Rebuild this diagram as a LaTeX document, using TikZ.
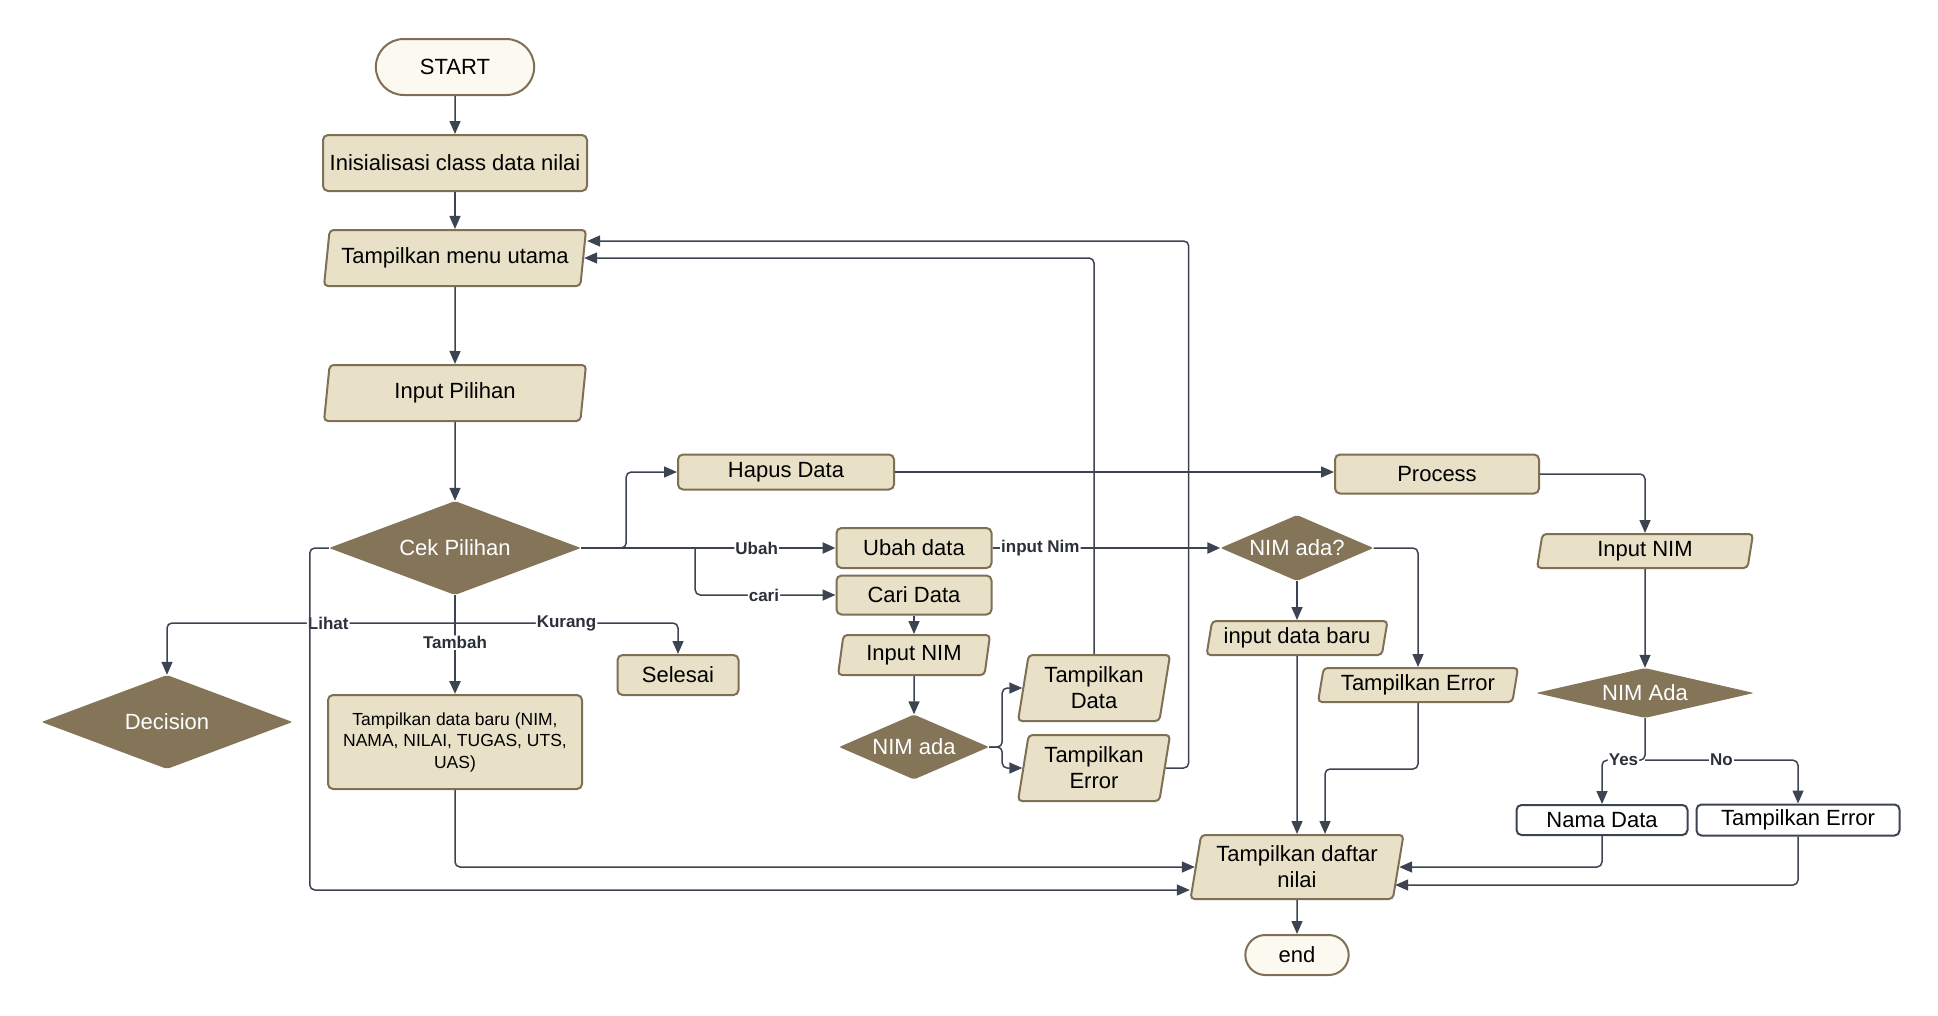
\documentclass[tikz,border=0pt]{standalone}
\usepackage{fontspec}
\setmainfont{Liberation Sans}
\usetikzlibrary{arrows.meta,positioning,shapes.geometric,shapes.misc,calc}

\definecolor{boxfill}{HTML}{E8E1C7}
\definecolor{boxdraw}{HTML}{7E6F55}
\definecolor{diafill}{HTML}{847559}
\definecolor{termfill}{HTML}{FCF9F0}
\definecolor{flowline}{HTML}{3D4451}

\begin{document}
\begin{tikzpicture}
    [on grid,
    every node/.style={font=\fontsize{22}{26}\selectfont},
    process box/.style={rectangle,rounded corners=5pt,draw=boxdraw,fill=boxfill,line width=2pt,inner sep=2pt},
    io box/.style={trapezium,trapezium left angle=77,trapezium right angle=103,trapezium stretches body,
        rounded corners=4pt,draw=boxdraw,fill=boxfill,line width=2pt,inner sep=2pt},
    decision/.style={diamond,aspect=2.6,inner sep=0pt,rounded corners=2pt,fill=diafill,text=white},
    terminal/.style={rounded rectangle,draw=boxdraw,fill=termfill,line width=2pt},
    plain box/.style={rectangle,rounded corners=5pt,draw=flowline,fill=white,line width=2pt},
    flow/.style={draw=flowline,line width=1.5pt,rounded corners=5pt,-{Triangle[length=13pt,width=11pt]}},
    flow thick/.style={flow,line width=2.5pt},
    branch label/.style={fill=white,inner sep=1pt,text=flowline!70!black,font=\bfseries\fontsize{17}{20}\selectfont}]
    \useasboundingbox (0,0) rectangle (1938pt,-1015pt);
    % 左边的主流程
    \node [terminal,minimum width=165pt,minimum height=56pt] (start) at (455pt,-67pt) {START};
    \node [process box,minimum width=264pt,minimum height=56pt] (init) [below=96pt of start] {Inisialisasi class data nilai};
    \node [io box,minimum width=262pt,minimum height=56pt] (menu) [below=95pt of init] {Tampilkan menu utama};
    \node [io box,minimum width=262pt,minimum height=56pt] (pilih) [below=135pt of menu] {Input Pilihan};
    \node [decision,minimum width=252pt,minimum height=94pt] (cek) [below=155pt of pilih] {Cek Pilihan};
    \node [process box,minimum width=254pt,minimum height=94pt,align=center,font=\fontsize{17.5}{21.5}\selectfont]
        (tambah) [below=194pt of cek] {Tampilkan data baru (NIM,\\NAMA, NILAI, TUGAS, UTS,\\UAS)};
    \node [decision,minimum width=251pt,minimum height=94pt] (lihat) [below left=174pt and 288pt of cek] {Decision};
    \node [process box,minimum width=121pt,minimum height=40pt] (selesai) [below right=127pt and 223pt of cek] {Selesai};
    \coordinate (silang) at ($(cek.center)+(0,-75pt)$);
    % 中间的分支
    \node [process box,minimum width=216pt,minimum height=35pt] (hapus) [above right=76pt and 331pt of cek] {Hapus Data};
    \node [process box,minimum width=155pt,minimum height=40pt] (ubah) [right=459pt of cek] {Ubah data};
    \node [process box,minimum width=155pt,minimum height=39pt] (cari) [below=47pt of ubah] {Cari Data};
    \node [io box,minimum width=152pt,minimum height=40pt] (nim1) [below=60pt of cari] {Input NIM};
    \node [decision,minimum width=150pt,minimum height=65pt] (ada1) [below=92pt of nim1] {NIM ada};
    \node [io box,minimum width=152pt,minimum height=66pt,align=center] (tdata) [above right=59pt and 180pt of ada1] {Tampilkan\\Data};
    \node [io box,minimum width=152pt,minimum height=66pt,align=center] (terr) [below=80pt of tdata] {Tampilkan\\Error};
    \coordinate (cabang) at ($(cek.east)+(114pt,0)$);
    % 右边的分支
    \node [decision,minimum width=153pt,minimum height=66pt] (ada2) [right=383pt of ubah] {NIM ada?};
    \node [io box,minimum width=181pt,minimum height=34pt] (baru) [below=90pt of ada2] {input data baru};
    \node [io box,minimum width=200pt,minimum height=34pt] (err2) [below right=137pt and 121pt of ada2] {Tampilkan Error};
    \node [io box,minimum width=213pt,minimum height=64pt,align=center] (daftar) [below=229pt of baru] {Tampilkan daftar\\nilai};
    \node [terminal,minimum width=110pt,minimum height=40pt] (end) [below=88pt of daftar] {end};
    \node [process box,minimum width=204pt,minimum height=39pt] (process) [above right=74pt and 140pt of ada2] {Process};
    \node [io box,minimum width=216pt,minimum height=34pt] (nim2) [below right=77pt and 208pt of process] {Input NIM};
    \node [decision,minimum width=218pt,minimum height=50pt] (ada3) [below=142pt of nim2] {NIM Ada};
    \node [plain box,minimum width=171pt,minimum height=30pt] (nama) [below left=127pt and 43pt of ada3] {Nama Data};
    \node [plain box,minimum width=203pt,minimum height=31pt] (err3) [below right=127pt and 153pt of ada3] {Tampilkan Error};
    % 连线
    \draw [flow] (start) -- (init);
    \draw [flow] (init) -- (menu);
    \draw [flow] (menu) -- (pilih);
    \draw [flow] (pilih) -- (cek);
    \draw [flow] (cek.east) -- ++(45pt,0) |- (hapus);
    \draw [flow thick] (cek) -- node [branch label,pos=0.69] {Ubah} (ubah);
    \draw [flow] (cabang) |- node [branch label,pos=0.745] {cari} (cari);
    \draw [flow thick] (ubah) -- node [branch label,pos=0.21] {input Nim} (ada2);
    \draw [flow] (cari) -- (nim1);
    \draw [flow] (nim1) -- (ada1);
    \draw [flow] (ada1.east) -- ++(13pt,0) |- (tdata);
    \draw [flow] (ada1.east) -- ++(13pt,0) |- (terr);
    \draw [flow] (tdata.center |- tdata.north) |- (menu.east);
    \draw [flow] (terr.east) -- ++(23pt,0) |- ([xshift=3pt,yshift=17pt]menu.east);
    \draw [flow thick] (cek) -- node [branch label,pos=0.48] {Tambah} (tambah);
    \draw [flow] (silang) -| node [branch label,pos=0.22] {Lihat} (lihat);
    \draw [flow] (silang) -| node [branch label,pos=0.25] {Kurang} (selesai);
    \draw [flow] (tambah) |- (daftar);
    \draw [flow] (cek.west) -- ++(-19pt,0) |- ([xshift=-5pt,yshift=-23pt]daftar.west);
    \draw [flow] (hapus.east) -- (process.west |- hapus.east);
    \draw [flow] (process) -| (nim2);
    \draw [flow] (nim2) -- (ada3);
    \draw [flow] (ada3.south) -- ++(0,-42pt) coordinate (pisah) -| node [branch label,pos=0.25] {Yes} (nama);
    \draw [flow] (pisah) -| node [branch label,pos=0.25] {No} (err3);
    \draw [flow] (nama) |- (daftar);
    \draw [flow] (err3) |- ([xshift=-4pt,yshift=-18pt]daftar.east);
    \draw [flow] (ada2) -| (err2);
    \draw [flow] (ada2) -- (baru);
    \draw [flow] (baru) -- (daftar);
    \draw [flow] (err2.center |- err2.south) -- ++(0,-66pt) -| ([xshift=28pt]daftar.north);
    \draw [flow] (daftar) -- (end);
\end{tikzpicture}
\end{document}
